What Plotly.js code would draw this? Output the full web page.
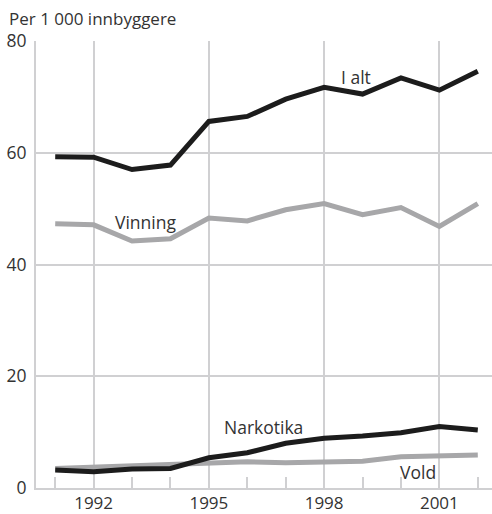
<!DOCTYPE html>
<html>
<head>
<meta charset="utf-8">
<script src="https://cdn.plot.ly/plotly-3.0.1.min.js"></script>
<style>html,body{margin:0;padding:0;background:#fff;}#chart{width:492px;height:514px;}</style>
</head>
<body>
<div id="chart"></div>
<script>
const years = [1991,1992,1993,1994,1995,1996,1997,1998,1999,2000,2001,2002];
const iAlt = [59.3,59.2,57.0,57.8,65.6,66.5,69.6,71.7,70.5,73.4,71.2,74.6];
const vinning = [47.3,47.1,44.2,44.6,48.3,47.8,49.8,50.9,48.9,50.2,46.8,50.9];
const narkotika = [3.2,2.9,3.4,3.5,5.4,6.3,8.0,8.9,9.3,9.9,11.0,10.4];
const vold = [3.5,3.7,3.9,4.1,4.3,4.7,4.5,4.7,4.8,5.6,5.7,5.9];
const yTicks = [0,20,40,60,80];
const xTicks = [1992,1995,1998,2001];
const labels = [
  {text:'I alt', x:1998.83, y:73.6},
  {text:'Vinning', x:1993.36, y:47.6},
  {text:'Narkotika', x:1996.43, y:10.9},
  {text:'Vold', x:2000.45, y:2.8}
];
const black = '#1c1c1c', gray = '#a7a7a9', grid = '#d0d0d2';
const font = '"Open Sans", "Noto Sans", sans-serif';
function tr(y, c){ return {x:years, y:y, type:'scatter', mode:'lines', line:{color:c, width:5}, hoverinfo:'skip'}; }
const data = [tr(vinning, gray), tr(vold, gray), tr(iAlt, black), tr(narkotika, black)];
const layout = {
  width:492, height:514,
  margin:{l:36, r:0, t:41, b:26.3},
  paper_bgcolor:'#fff', plot_bgcolor:'#fff',
  showlegend:false,
  font:{family:font, color:'#333'},
  xaxis:{
    range:[1990.5, 2002.37],
    tickvals:xTicks, ticktext:xTicks.map(String),
    showgrid:true, gridcolor:grid, gridwidth:2,
    ticks:'inside', ticklen:11, tickcolor:grid, tickwidth:2,
    minor:{dtick:1, tick0:1991, ticks:'inside', ticklen:11, tickcolor:grid, tickwidth:2, showgrid:false},
    showline:true, linecolor:grid, linewidth:2,
    zeroline:false,
    tickfont:{size:17, color:'#333'},
    ticklabelstandoff:-1
  },
  yaxis:{
    range:[0,80],
    tickvals:yTicks,
    showgrid:true, gridcolor:grid, gridwidth:2,
    ticks:'', showline:true, linecolor:grid, linewidth:2,
    zeroline:false,
    tickfont:{size:17.5, color:'#333'},
    ticklabelstandoff:4
  },
  annotations: labels.map(l => ({text:l.text, x:l.x, y:l.y, xref:'x', yref:'y', showarrow:false, xanchor:'center', yanchor:'middle', font:{size:17.5, color:'#333', family:font}}))
    .concat([{text:'Per 1 000 innbyggere', xref:'paper', yref:'paper', x:-29/456, y:1, yshift:23, xanchor:'left', yanchor:'middle', showarrow:false, font:{size:17, color:'#333', family:font}}])
};
Plotly.newPlot('chart', data, layout, {displayModeBar:false, staticPlot:true});
</script>
</body>
</html>
